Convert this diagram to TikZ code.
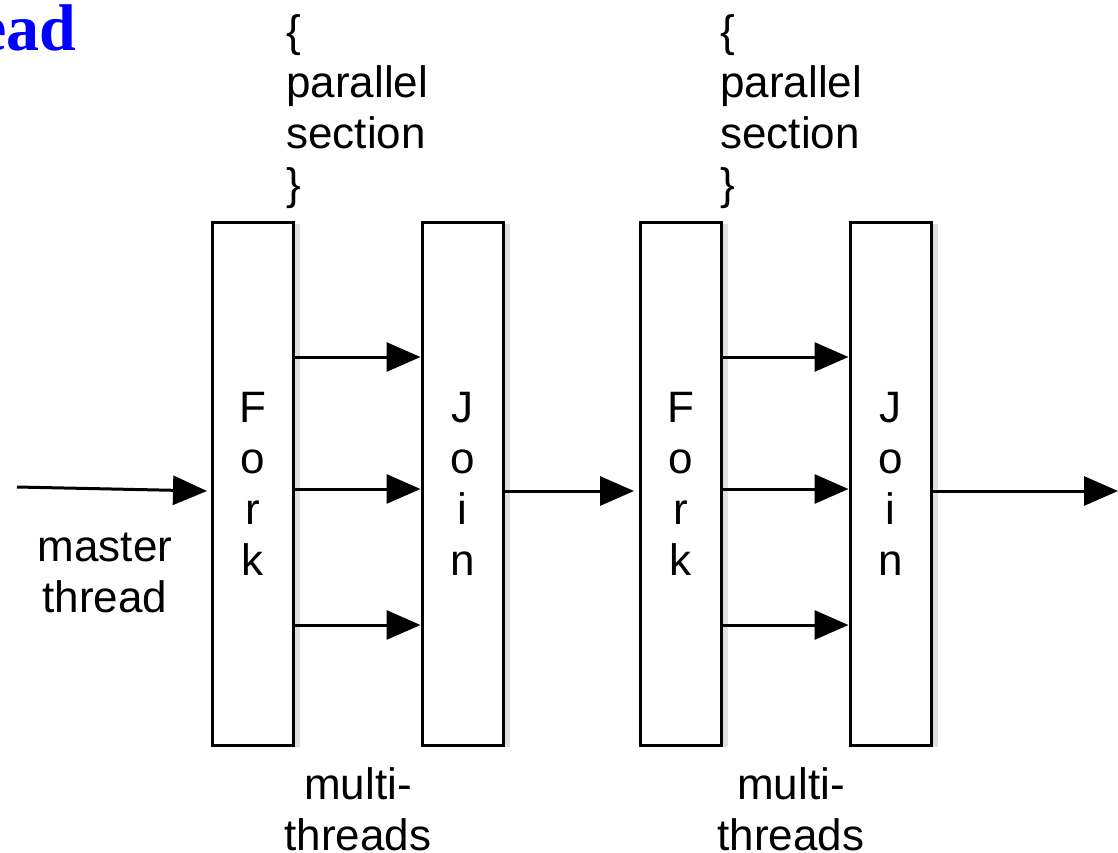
\documentclass[tikz,border=0pt]{standalone}
\usepackage{fontspec}
\setmainfont{Liberation Sans}
\newfontfamily\titlefont{Liberation Serif}
\usetikzlibrary{arrows.meta,calc}
\begin{document}
\begin{tikzpicture}[x=0.5pt,y=-0.5pt,
  lbl/.style={font=\fontsize{22}{25.5}\selectfont, inner sep=0pt},
  bar/.style={draw, line width=1.5pt, minimum width=40.5pt, minimum height=261.5pt, inner sep=0pt, align=center, font=\fontsize{22}{25.5}\selectfont, fill=white},
  arr/.style={line width=1.5pt, -{Triangle[length=17pt,width=14.5pt]}}]
\useasboundingbox (0,0) rectangle (1118,852);
% title fragment
\node[anchor=base east, inner sep=0pt, text=blue, font=\titlefont\bfseries\fontsize{33}{36}\selectfont] (title) at (77,50) {ead};
% shadows
\foreach \x in {212,422,640,850}{
  \fill[black!12] (\x+83,224) rectangle (\x+88,747);
}
% boxes
\node[bar] (f1) at (252.5,483.5) {F\\o\\r\\k};
\node[bar] (j1) at (462.5,483.5) {J\\o\\i\\n};
\node[bar] (f2) at (680.5,483.5) {F\\o\\r\\k};
\node[bar] (j2) at (890.5,483.5) {J\\o\\i\\n};
% labels
\node[lbl, align=left, anchor=north west] (p1) at (286,14) {\{\\parallel\\section\\\}};
\node[lbl, align=left, anchor=north west] (p2) at (720,14) {\{\\parallel\\section\\\}};
\node[lbl, align=center] (mt) at (105,573) {master\\thread};
\node[lbl, align=center] (m1) at (358,809) {multi-\\threads};
\node[lbl, align=center] (m2) at (791,809) {multi-\\threads};
% arrows
\coordinate (in) at (17,487);
\coordinate (inend) at (207,491);
\draw[arr] (in) -- (inend);
\foreach \y in {357,489,625}{
  \draw[arr] (f1.east |- 0,\y) -- (j1.west |- 0,\y);
  \draw[arr] (f2.east |- 0,\y) -- (j2.west |- 0,\y);
}
\coordinate (mid) at (634,491);
\draw[arr] (j1.east |- mid) -- (mid);
\coordinate (out) at (1118,491);
\draw[arr] (j2.east |- out) -- (out);
\end{tikzpicture}
\end{document}
